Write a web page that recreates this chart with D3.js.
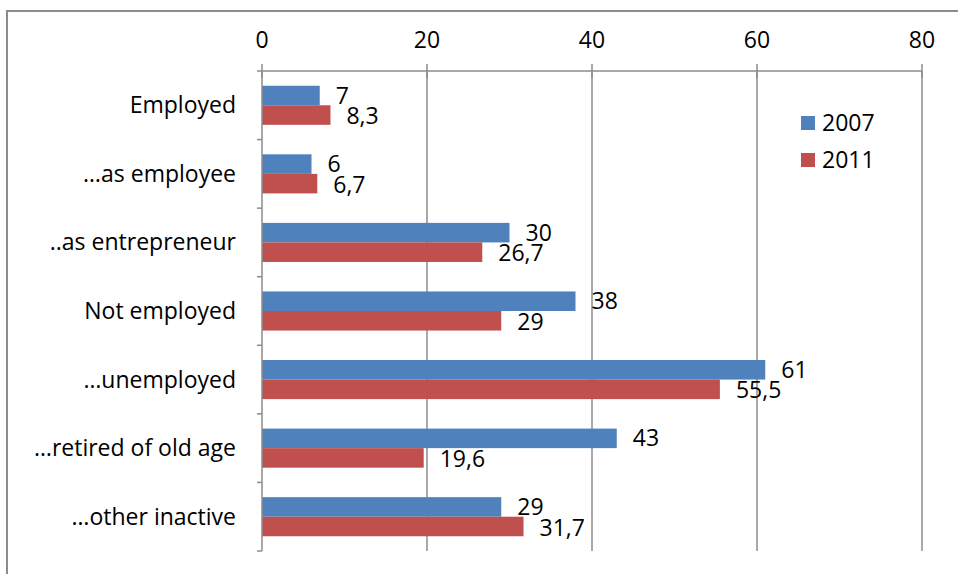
<!DOCTYPE html>
<html><head><meta charset="utf-8">
<script src="https://cdn.jsdelivr.net/npm/d3@7"></script>
<style>body{margin:0;background:#fff}svg{display:block}text{font-family:"Open Sans",sans-serif;fill:#000}</style>
</head><body>
<svg id="c" width="958" height="574"></svg>
<script>
const categories = ["Employed","…as employee","..as entrepreneur","Not employed","…unemployed","…retired of old age","…other inactive"];
const series = ["2007","2011"];
const values2007 = [7,6,30,38,61,43,29];
const values2011 = [8.3,6.7,26.7,29,55.5,19.6,31.7];
const labels2007 = ["7","6","30","38","61","43","29"];
const labels2011 = ["8,3","6,7","26,7","29","55,5","19,6","31,7"];
const xTicks = [0,20,40,60,80];
const colors = ["#4F81BD","#C0504D"];

const svg = d3.select("#c");
const fs = 23;
// outer frame
svg.append("path").attr("d","M7,574 V11 H958").attr("fill","none").attr("stroke","#8c8c8c").attr("stroke-width",2);

const x = d3.scaleLinear().domain([0,80]).range([262,922]);
const y = d3.scaleBand().domain(categories).range([71,551]).paddingInner(0.43).paddingOuter(0.215);
const ys = d3.scaleBand().domain(series).range([0,y.bandwidth()]);

// gridlines
svg.append("g").selectAll("line").data(xTicks.slice(1)).join("line")
  .attr("x1",d=>x(d)).attr("x2",d=>x(d)).attr("y1",71).attr("y2",551)
  .attr("stroke","#8c8c8c").attr("stroke-width",1.5);

// bars
const data = categories.map((c,i)=>({c, vals:[{s:"2007",v:values2007[i],l:labels2007[i]},{s:"2011",v:values2011[i],l:labels2011[i]}]}));
const g = svg.append("g").selectAll("g").data(data).join("g").attr("transform",d=>`translate(0,${y(d.c)})`);
g.selectAll("rect").data(d=>d.vals).join("rect")
  .attr("x",x(0)).attr("y",d=>ys(d.s)).attr("width",d=>x(d.v)-x(0)).attr("height",ys.bandwidth())
  .attr("fill",(d,i)=>colors[i]);
g.selectAll("text").data(d=>d.vals).join("text")
  .attr("x",d=>x(d.v)+16).attr("y",d=>ys(d.s)+ys.bandwidth()/2+(d.s==="2007"?0:1)).attr("dy","0.35em")
  .attr("font-size",fs).text(d=>d.l);

// x axis on top
const xa = svg.append("g").attr("transform","translate(0,71)");
xa.append("line").attr("x1",x(0)).attr("x2",x(80)).attr("stroke","#8c8c8c").attr("stroke-width",1.5);
xa.selectAll("line.t").data(xTicks).join("line").attr("class","t")
  .attr("x1",d=>x(d)).attr("x2",d=>x(d)).attr("y1",-7).attr("y2",7).attr("stroke","#8c8c8c").attr("stroke-width",1.5);
xa.selectAll("text").data(xTicks).join("text").attr("x",d=>x(d)).attr("y",-31).attr("dy","0.35em")
  .attr("text-anchor","middle").attr("font-size",fs).text(d=>d);

// y axis
const ya = svg.append("g");
ya.append("line").attr("x1",x(0)).attr("x2",x(0)).attr("y1",71).attr("y2",551).attr("stroke","#8c8c8c").attr("stroke-width",1.5);
const bounds = categories.map(c=>y(c)-y.step()*y.paddingInner()/2).concat([551]);
ya.selectAll("line.t").data(bounds).join("line").attr("class","t")
  .attr("x1",x(0)-5).attr("x2",x(0)).attr("y1",d=>d).attr("y2",d=>d).attr("stroke","#8c8c8c").attr("stroke-width",1.5);
ya.selectAll("text").data(categories).join("text").attr("x",236).attr("y",d=>y(d)+y.bandwidth()/2).attr("dy","0.35em")
  .attr("text-anchor","end").attr("font-size",fs).text(d=>d);

// legend
const lg = svg.append("g").selectAll("g").data(series).join("g").attr("transform",(d,i)=>`translate(801,${116+i*37})`);
lg.append("rect").attr("width",14).attr("height",14).attr("fill",(d,i)=>colors[i]);
lg.append("text").attr("x",21).attr("y",7).attr("dy","0.35em").attr("font-size",fs).text(d=>d);
</script>
</body></html>
